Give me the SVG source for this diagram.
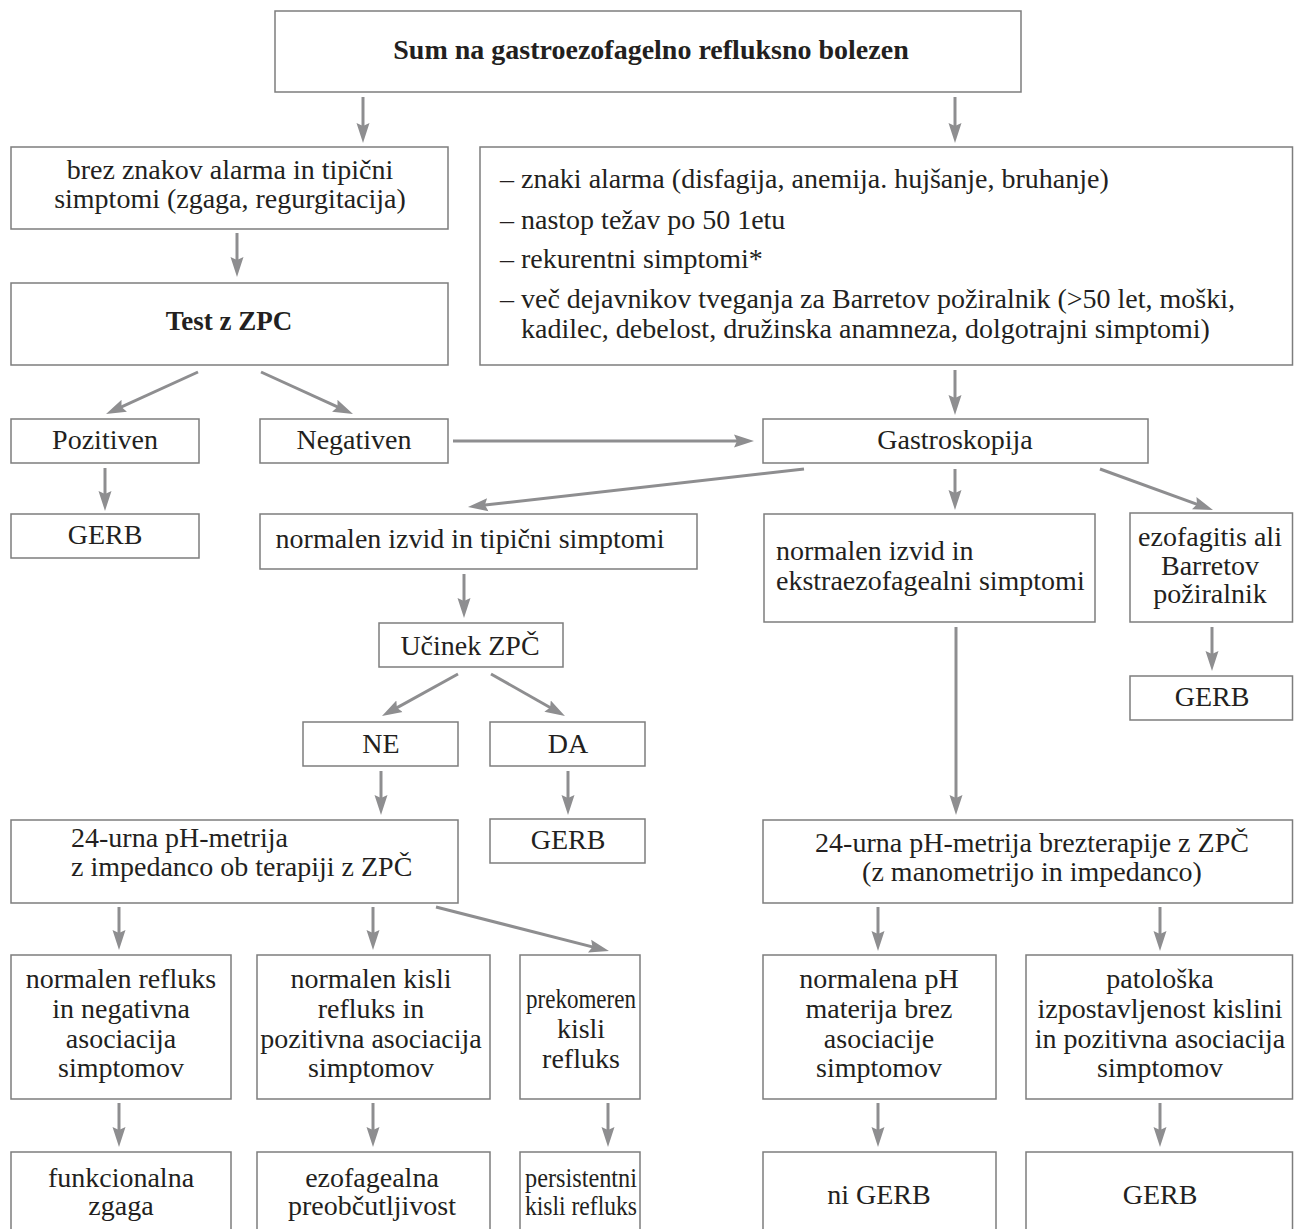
<svg xmlns="http://www.w3.org/2000/svg" width="1294" height="1229" viewBox="0 0 1294 1229">
  <style>
    .box { fill: #ffffff; stroke: #7d7d7d; stroke-width: 1.5; }
    .t { font-family: "Liberation Serif", "Times New Roman", serif; font-size: 28px; fill: #231f20; }
    .c { text-anchor: middle; }
    .b { font-weight: bold; }
    .arr { stroke: #8e8e90; stroke-width: 3; fill: none; marker-end: url(#ah); }
  </style>
  <defs>
    <marker id="ah" markerUnits="userSpaceOnUse" markerWidth="22" markerHeight="14" refX="12" refY="7" orient="auto">
      <path d="M0,0.5 L20,7 L0,13.5 L3,7 z" fill="#8e8e90"/>
    </marker>
  </defs>
  <rect width="1294" height="1229" fill="#ffffff"/>

  <!-- connectors -->
  <g id="connectors">
    <line class="arr" x1="363" y1="97" x2="363" y2="135"/>
    <line class="arr" x1="955" y1="97" x2="955" y2="135"/>
    <line class="arr" x1="237" y1="233" x2="237" y2="269"/>
    <line class="arr" x1="955" y1="370" x2="955" y2="407"/>
    <line class="arr" x1="198" y1="372" x2="113.3" y2="410.7"/>
    <line class="arr" x1="261" y1="372" x2="345.7" y2="410.7"/>
    <line class="arr" x1="453" y1="441" x2="746" y2="441"/>
    <line class="arr" x1="105" y1="468" x2="105" y2="503"/>
    <line class="arr" x1="804" y1="469" x2="475.9" y2="506.1"/>
    <line class="arr" x1="955" y1="469" x2="955" y2="502"/>
    <line class="arr" x1="1100" y1="469" x2="1205.5" y2="507.3"/>
    <line class="arr" x1="1212" y1="627" x2="1212" y2="663"/>
    <line class="arr" x1="464" y1="574" x2="464" y2="610"/>
    <line class="arr" x1="458" y1="674" x2="389" y2="712.1"/>
    <line class="arr" x1="491" y1="674" x2="558" y2="712"/>
    <line class="arr" x1="381" y1="771" x2="381" y2="807"/>
    <line class="arr" x1="568" y1="771" x2="568" y2="807"/>
    <line class="arr" x1="956" y1="627" x2="956" y2="807"/>
    <line class="arr" x1="119" y1="907" x2="119" y2="942"/>
    <line class="arr" x1="373" y1="907" x2="373" y2="942"/>
    <line class="arr" x1="436" y1="907" x2="601.2" y2="949.1"/>
    <line class="arr" x1="878" y1="907" x2="878" y2="943"/>
    <line class="arr" x1="1160" y1="907" x2="1160" y2="943"/>
    <line class="arr" x1="119" y1="1103" x2="119" y2="1139"/>
    <line class="arr" x1="373" y1="1103" x2="373" y2="1139"/>
    <line class="arr" x1="608" y1="1103" x2="608" y2="1139"/>
    <line class="arr" x1="878" y1="1103" x2="878" y2="1139"/>
    <line class="arr" x1="1160" y1="1103" x2="1160" y2="1139"/>
  </g>

  <!-- nodes -->
  <g id="n-sum">
    <rect class="box" x="275" y="11" width="746" height="81"/>
    <text class="t c b" x="651" y="59">Sum na gastroezofagelno refluksno bolezen</text>
  </g>

  <g id="n-brez">
    <rect class="box" x="11" y="147" width="437" height="82"/>
    <text class="t c" x="230" y="179">brez znakov alarma in tipični</text>
    <text class="t c" x="230" y="208">simptomi (zgaga, regurgitacija)</text>
  </g>

  <g id="n-alarm">
    <rect class="box" x="480" y="147" width="812.5" height="218"/>
    <text class="t" x="500" y="188">– znaki alarma (disfagija, anemija. hujšanje, bruhanje)</text>
    <text class="t" x="500" y="229">– nastop težav po 50 1etu</text>
    <text class="t" x="500" y="268">– rekurentni simptomi*</text>
    <text class="t" x="500" y="308">– več dejavnikov tveganja za Barretov požiralnik (&gt;50 let, moški,</text>
    <text class="t" x="521" y="338">kadilec, debelost, družinska anamneza, dolgotrajni simptomi)</text>
  </g>

  <g id="n-test">
    <rect class="box" x="11" y="283" width="437" height="82"/>
    <text class="t c b" x="229" y="330" style="font-size:27px">Test z ZPC</text>
  </g>

  <g id="n-pozitiven">
    <rect class="box" x="11" y="419" width="188" height="44"/>
    <text class="t c" x="105" y="449">Pozitiven</text>
  </g>

  <g id="n-negativen">
    <rect class="box" x="260" y="419" width="188" height="44"/>
    <text class="t c" x="354" y="449">Negativen</text>
  </g>

  <g id="n-gastro">
    <rect class="box" x="763" y="419" width="385" height="44"/>
    <text class="t c" x="955" y="449">Gastroskopija</text>
  </g>

  <g id="n-gerb1">
    <rect class="box" x="11" y="514" width="188" height="44"/>
    <text class="t c" x="105" y="544">GERB</text>
  </g>

  <g id="n-tipicni">
    <rect class="box" x="260" y="514" width="437" height="55"/>
    <text class="t c" x="470" y="548">normalen izvid in tipični simptomi</text>
  </g>

  <g id="n-ekstra">
    <rect class="box" x="764" y="514" width="331" height="108"/>
    <text class="t" x="776" y="560">normalen izvid in</text>
    <text class="t" x="776" y="590">ekstraezofagealni simptomi</text>
  </g>

  <g id="n-ezofagitis">
    <rect class="box" x="1130" y="513" width="162.5" height="109"/>
    <text class="t c" x="1210" y="546">ezofagitis ali</text>
    <text class="t c" x="1210" y="575">Barretov</text>
    <text class="t c" x="1210" y="603">požiralnik</text>
  </g>

  <g id="n-gerb2">
    <rect class="box" x="1130" y="676" width="162.5" height="44"/>
    <text class="t c" x="1212" y="706">GERB</text>
  </g>

  <g id="n-ucinek">
    <rect class="box" x="379" y="623" width="184" height="44"/>
    <text class="t c" x="470" y="655">Učinek ZPČ</text>
  </g>

  <g id="n-ne">
    <rect class="box" x="303" y="722" width="155" height="44"/>
    <text class="t c" x="381" y="753">NE</text>
  </g>

  <g id="n-da">
    <rect class="box" x="490" y="722" width="155" height="44"/>
    <text class="t c" x="568" y="753">DA</text>
  </g>

  <g id="n-gerb3">
    <rect class="box" x="490" y="819" width="155" height="44"/>
    <text class="t c" x="568" y="849">GERB</text>
  </g>

  <g id="n-ph1">
    <rect class="box" x="11" y="820" width="447" height="83"/>
    <text class="t" x="71" y="847">24-urna pH-metrija</text>
    <text class="t" x="71" y="876">z impedanco ob terapiji z ZPČ</text>
  </g>

  <g id="n-ph2">
    <rect class="box" x="763" y="820" width="529.5" height="83"/>
    <text class="t c" x="1032" y="852">24-urna pH-metrija brezterapije z ZPČ</text>
    <text class="t c" x="1032" y="881">(z manometrijo in impedanco)</text>
  </g>

  <g id="n-normref">
    <rect class="box" x="11" y="955" width="220" height="144"/>
    <text class="t c" x="121" y="988">normalen refluks</text>
    <text class="t c" x="121" y="1018">in negativna</text>
    <text class="t c" x="121" y="1048">asociacija</text>
    <text class="t c" x="121" y="1077">simptomov</text>
  </g>

  <g id="n-normkisli">
    <rect class="box" x="257" y="955" width="233" height="144"/>
    <text class="t c" x="371" y="988">normalen kisli</text>
    <text class="t c" x="371" y="1018">refluks in</text>
    <text class="t c" x="371" y="1048">pozitivna asociacija</text>
    <text class="t c" x="371" y="1077">simptomov</text>
  </g>

  <g id="n-prekomeren">
    <rect class="box" x="520" y="955" width="120" height="144"/>
    <text class="t c" x="581" y="1008" textLength="110" lengthAdjust="spacingAndGlyphs">prekomeren</text>
    <text class="t c" x="581" y="1038">kisli</text>
    <text class="t c" x="581" y="1068">refluks</text>
  </g>

  <g id="n-normph">
    <rect class="box" x="763" y="955" width="233" height="144"/>
    <text class="t c" x="879" y="988">normalena pH</text>
    <text class="t c" x="879" y="1018">materija brez</text>
    <text class="t c" x="879" y="1048">asociacije</text>
    <text class="t c" x="879" y="1077">simptomov</text>
  </g>

  <g id="n-patoloska">
    <rect class="box" x="1026" y="955" width="266.5" height="144"/>
    <text class="t c" x="1160" y="988">patološka</text>
    <text class="t c" x="1160" y="1018">izpostavljenost kislini</text>
    <text class="t c" x="1160" y="1048">in pozitivna asociacija</text>
    <text class="t c" x="1160" y="1077">simptomov</text>
  </g>

  <g id="n-funkcionalna">
    <rect class="box" x="11" y="1152" width="220" height="90"/>
    <text class="t c" x="121" y="1187">funkcionalna</text>
    <text class="t c" x="121" y="1215">zgaga</text>
  </g>

  <g id="n-preobcutljivost">
    <rect class="box" x="257" y="1152" width="233" height="90"/>
    <text class="t c" x="372" y="1187">ezofagealna</text>
    <text class="t c" x="372" y="1215">preobčutljivost</text>
  </g>

  <g id="n-persistentni">
    <rect class="box" x="520" y="1152" width="120" height="90"/>
    <text class="t c" x="581" y="1187" textLength="112" lengthAdjust="spacingAndGlyphs">persistentni</text>
    <text class="t c" x="581" y="1215" textLength="112" lengthAdjust="spacingAndGlyphs">kisli refluks</text>
  </g>

  <g id="n-nigerb">
    <rect class="box" x="763" y="1152" width="233" height="90"/>
    <text class="t c" x="879" y="1204">ni GERB</text>
  </g>

  <g id="n-gerb4">
    <rect class="box" x="1026" y="1152" width="266.5" height="90"/>
    <text class="t c" x="1160" y="1204">GERB</text>
  </g>
</svg>
